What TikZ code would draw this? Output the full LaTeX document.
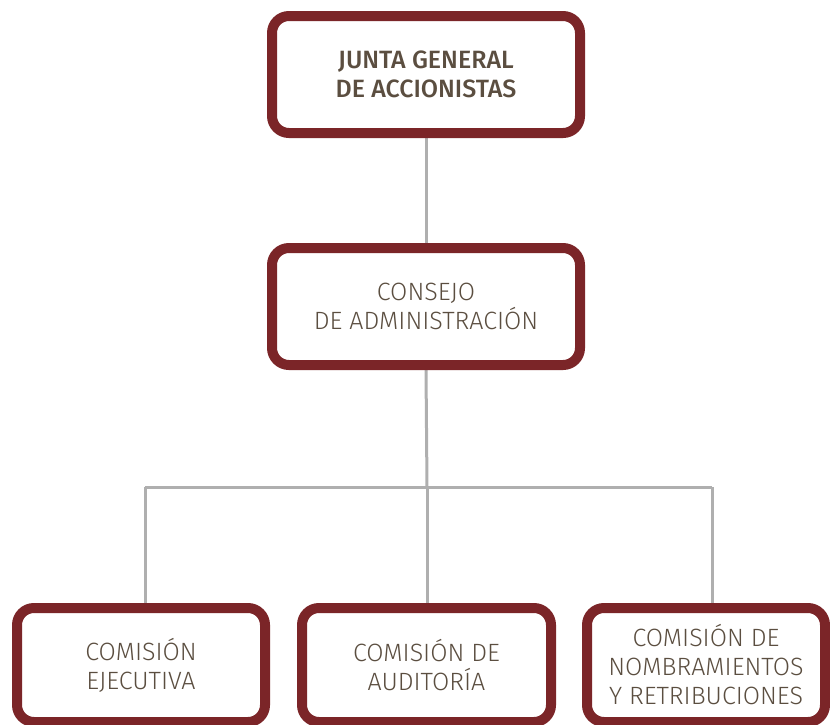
\documentclass[tikz,border=0pt]{standalone}
\usepackage{fontspec}
\setmainfont{Fira Sans}[UprightFont={* Light}, BoldFont={* Medium}]
\usetikzlibrary{backgrounds}
\definecolor{bordo}{HTML}{7B2528}
\definecolor{txt}{HTML}{5B4E40}
\definecolor{conn}{HTML}{AFAFAF}
\tikzset{
  orgbox/.style={draw=bordo, line width=10pt, rounded corners=17pt, fill=white,
    align=center, text=txt, inner sep=0pt,
    font=\fontsize{25}{29}\selectfont},
  link/.style={draw=conn, line width=3pt}
}
\begin{document}
\begin{tikzpicture}[x=1pt,y=-1pt]
\useasboundingbox (0,0) rectangle (830,724);
\clip (0,0) rectangle (830,724);
\node[orgbox, minimum width=308pt, minimum height=117pt, font=\fontsize{25}{29}\selectfont\bfseries] (jga) at (426,74.5) {JUNTA GENERAL\\DE ACCIONISTAS};
\node[orgbox, minimum width=308pt, minimum height=117pt] (cda) at (426,306.5) {CONSEJO\\DE ADMINISTRACIÓN};
\node[orgbox, minimum width=248pt, minimum height=114pt] (ce) at (141,665) {COMISIÓN\\EJECUTIVA};
\node[orgbox, minimum width=249pt, minimum height=114pt] (ca) at (426.5,665) {COMISIÓN DE\\AUDITORÍA};
\node[orgbox, minimum width=238pt, minimum height=114pt] (cnr) at (706,665) {COMISIÓN DE\\NOMBRAMIENTOS\\Y RETRIBUCIONES};
\coordinate (j) at (427,487);
\coordinate (jl) at (145,487);
\coordinate (jr) at (712,487);
\begin{pgfonlayer}{background}
\draw[link] (jga.south) -- (cda.north);
\draw[link] (cda.south) -- (j);
\draw[link] (jl) -- (jr);
\draw[link] (jl) -- (jl |- ce.north);
\draw[link] (j) -- (j |- ca.north);
\draw[link] (jr) -- (jr |- cnr.north);
\end{pgfonlayer}
\end{tikzpicture}
\end{document}
